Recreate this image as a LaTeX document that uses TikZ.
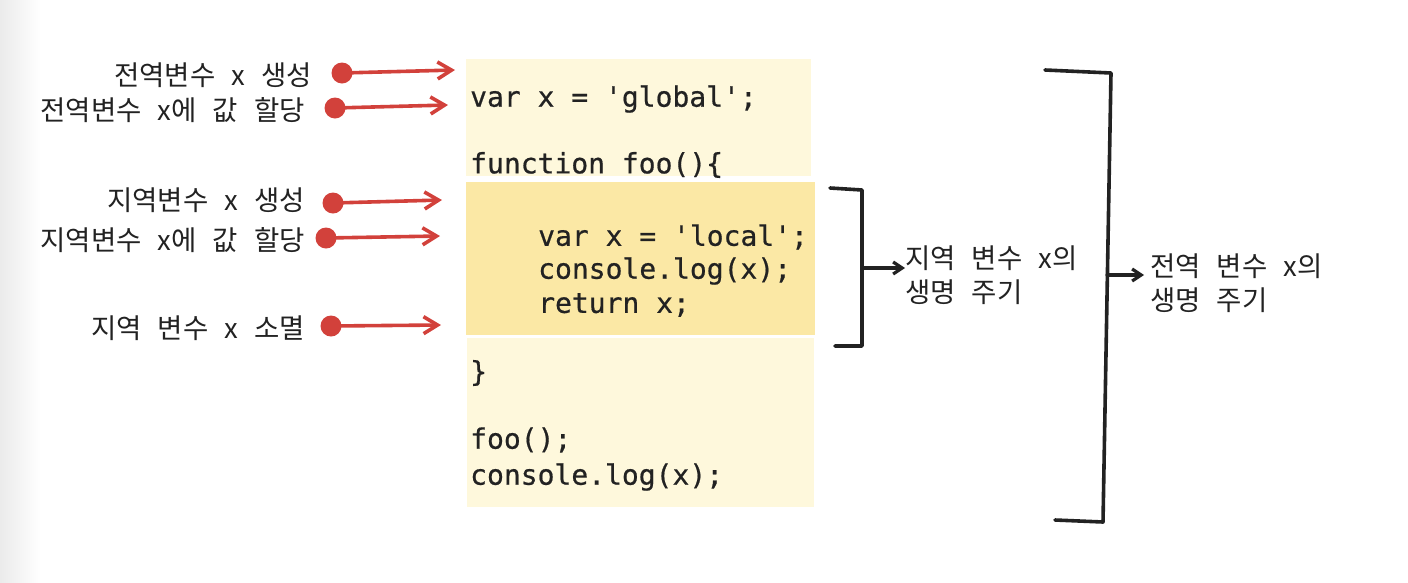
\documentclass[tikz,border=0pt]{standalone}
\usepackage{fontspec}
\setmainfont{Noto Sans CJK KR}[WordSpace=2.6]
\newfontfamily\codefont{DejaVu Sans Mono}[FakeBold=0.6]
\usetikzlibrary{arrows.meta}
\definecolor{ink}{HTML}{222222}
\definecolor{dotred}{HTML}{D2413B}
\definecolor{paleyellow}{HTML}{FEF8DC}
\definecolor{deepyellow}{HTML}{FBE8A5}
\tikzset{
	label/.style={inner sep=0pt, text=ink, font=\fontsize{27.5}{34}\selectfont},
	code/.style={anchor=west, inner sep=0pt, text=ink, font=\codefont\fontsize{28}{34}\selectfont},
	dot/.style={circle, fill=dotred, inner sep=0pt, minimum size=21pt},
	redarrow/.style={draw=dotred, line width=3.6pt, -{Straight Barb[length=14pt, width=17pt]}},
	bracket/.style={draw=ink, line width=3.6pt},
	blackarrow/.style={draw=ink, line width=3.2pt, -{Straight Barb[length=9pt, width=12pt]}}
}
\begin{document}
\begin{tikzpicture}[x=1pt, y=-1pt, line join=round, line cap=round]
		\useasboundingbox (0,0) rectangle (1408,582);
		\shade[left color=gray!16, right color=white] (0,0) rectangle (40,582);
		% code boxes
		\fill[paleyellow] (466,59) rectangle (811,176);
		\fill[deepyellow] (466,182) rectangle (815,335);
		\fill[paleyellow] (467,338) rectangle (814,507);
		\node[code] (c1) at (470,99) {var x = 'global';};
		\node[code] (c2) at (470,165) {function foo()\{};
		\node[code] (c3) at (538,237) {var x = 'local';};
		\node[code] (c4) at (538,271) {console.log(x);};
		\node[code] (c5) at (538,305) {return x;};
		\node[code] (c6) at (470,373) {\}};
		\node[code] (c7) at (470,440) {foo();};
		\node[code] (c8) at (470,477) {console.log(x);};
		% left labels
		\node[label, anchor=east] (gmake) at (312,75) {전역변수 x 생성};
		\node[label, anchor=east] (gset) at (305,110) {전역변수 x에 값 할당};
		\node[label, anchor=east] (lmake) at (305,200) {지역변수 x 생성};
		\node[label, anchor=east] (lset) at (305,240) {지역변수 x에 값 할당};
		\node[label, anchor=east] (lgone) at (305,328) {지역 변수 x 소멸};
		\node[dot] (gmakedot) at (342,73) {};
		\node[dot] (gsetdot) at (335,108) {};
		\node[dot] (lmakedot) at (333,203) {};
		\node[dot] (lsetdot) at (326,238) {};
		\node[dot] (lgonedot) at (331,326) {};
		\coordinate (gmakeend) at (455,70);
		\coordinate (gsetend) at (448,105);
		\coordinate (lmakeend) at (442,200);
		\coordinate (lsetend) at (440,236);
		\coordinate (lgoneend) at (441,325);
		\draw[redarrow] (gmakedot.center) -- (gmakeend);
		\draw[redarrow] (gsetdot.center) -- (gsetend);
		\draw[redarrow] (lmakedot.center) -- (lmakeend);
		\draw[redarrow] (lsetdot.center) -- (lsetend);
		\draw[redarrow] (lgonedot.center) -- (lgoneend);
		% brackets
		\draw[bracket] (830,188) -- (862,190) -- (862,346) -- (835,346);
		\draw[bracket] (1045,70) -- (1111,73) -- (1103,522) -- (1055,520);
		\coordinate (smallmid) at (862,268);
		\coordinate (bigmid) at (1107,275);
		\node[label, anchor=west, align=left] (locallife) at (905,275) {지역 변수 x의\\생명 주기};
		\node[label, anchor=west, align=left] (globallife) at (1150,283) {전역 변수 x의\\생명 주기};
		\draw[blackarrow] (smallmid) -- (smallmid -| locallife.west);
		\draw[blackarrow] (bigmid) -- ([xshift=-6pt]bigmid -| globallife.west);
\end{tikzpicture}
\end{document}
